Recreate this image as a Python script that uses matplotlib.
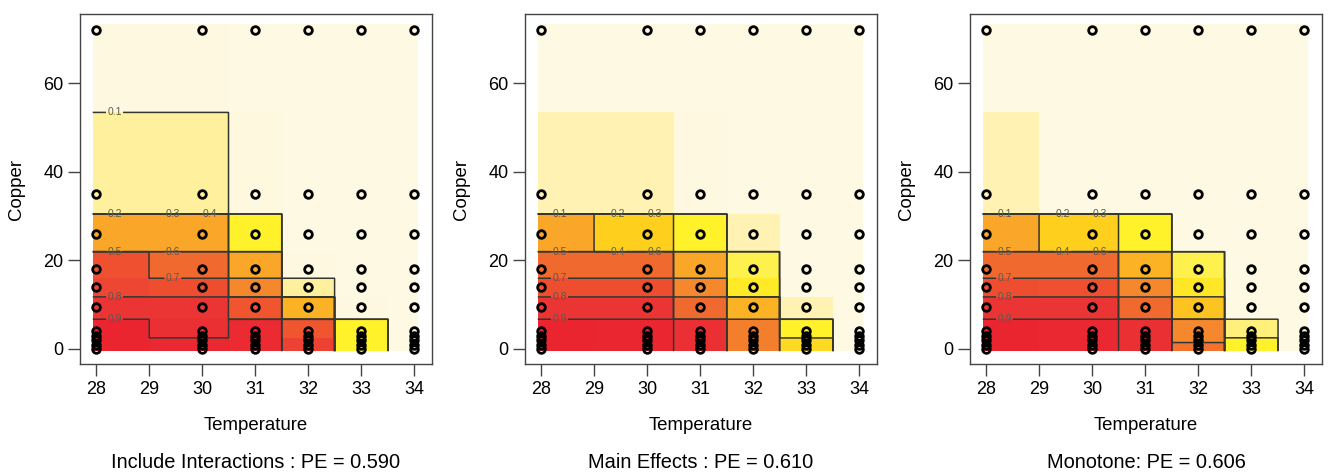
import numpy as np
import matplotlib
matplotlib.use("Agg")
import matplotlib.pyplot as plt
from matplotlib.colors import LinearSegmentedColormap

plt.rcParams['font.family'] = ['Liberation Sans', 'DejaVu Sans']

# design grid
temperature = [28, 30, 31, 32, 33, 34]
copper = [0, 1, 2, 3, 4, 9.5, 14, 18, 26, 35, 72]
x_ticks = [28, 29, 30, 31, 32, 33, 34]
y_ticks = [0, 20, 40, 60]
contour_levels = [0.1, 0.2, 0.3, 0.4, 0.5, 0.6, 0.7, 0.8, 0.9]

# fitted probability, one row per temperature, columns follow `copper`
prob_interactions = [
    [0.95, 0.95, 0.95, 0.95, 0.95, 0.85, 0.78, 0.74, 0.45, 0.15, 0.04],
    [0.93, 0.93, 0.93, 0.88, 0.88, 0.85, 0.75, 0.65, 0.45, 0.15, 0.04],
    [0.92, 0.92, 0.92, 0.92, 0.92, 0.72, 0.55, 0.45, 0.25, 0.05, 0.03],
    [0.80, 0.80, 0.80, 0.72, 0.72, 0.42, 0.15, 0.04, 0.03, 0.03, 0.02],
    [0.25, 0.25, 0.25, 0.25, 0.25, 0.04, 0.03, 0.03, 0.03, 0.03, 0.02],
    [0.03, 0.03, 0.03, 0.03, 0.03, 0.03, 0.03, 0.03, 0.03, 0.03, 0.02],
]
prob_main = [
    [0.95, 0.95, 0.95, 0.95, 0.95, 0.85, 0.75, 0.65, 0.45, 0.08, 0.03],
    [0.94, 0.94, 0.94, 0.94, 0.94, 0.85, 0.75, 0.65, 0.35, 0.08, 0.03],
    [0.88, 0.88, 0.88, 0.88, 0.88, 0.65, 0.55, 0.45, 0.25, 0.04, 0.03],
    [0.58, 0.58, 0.58, 0.58, 0.58, 0.42, 0.27, 0.22, 0.08, 0.03, 0.02],
    [0.32, 0.32, 0.32, 0.25, 0.25, 0.08, 0.03, 0.03, 0.02, 0.02, 0.02],
    [0.02, 0.02, 0.02, 0.02, 0.02, 0.02, 0.02, 0.02, 0.02, 0.02, 0.02],
]
prob_monotone = [
    [0.95, 0.95, 0.95, 0.95, 0.95, 0.85, 0.75, 0.65, 0.45, 0.08, 0.03],
    [0.93, 0.93, 0.93, 0.93, 0.93, 0.85, 0.74, 0.65, 0.35, 0.03, 0.03],
    [0.88, 0.88, 0.88, 0.88, 0.88, 0.65, 0.55, 0.42, 0.25, 0.03, 0.03],
    [0.62, 0.62, 0.55, 0.55, 0.55, 0.38, 0.28, 0.22, 0.03, 0.03, 0.02],
    [0.25, 0.25, 0.25, 0.18, 0.18, 0.03, 0.02, 0.02, 0.02, 0.02, 0.02],
    [0.02, 0.02, 0.02, 0.02, 0.02, 0.02, 0.02, 0.02, 0.02, 0.02, 0.02],
]
panel_titles = ["Include Interactions : PE = 0.590",
                "Main Effects : PE = 0.610",
                "Monotone: PE = 0.606"]

heat = LinearSegmentedColormap.from_list("heat", [
    (0.00, "#FEFAE6"), (0.05, "#FEF8DE"), (0.08, "#FFF2B0"),
    (0.15, "#FFF09E"), (0.25, "#FFF12A"), (0.35, "#FFCF1E"),
    (0.45, "#FAA628"), (0.55, "#F5882C"), (0.65, "#F0692F"),
    (0.75, "#EE4E30"), (0.85, "#EB3535"), (1.00, "#EA1E2E"),
])


def cell_edges(v, lo_pad, hi_pad):
    v = np.asarray(v, float)
    mid = (v[:-1] + v[1:]) / 2
    return np.concatenate([[v[0] - lo_pad], mid, [v[-1] + hi_pad]])


def draw_panel(ax, prob):
    z = np.asarray(prob).T  # copper x temperature
    xe = cell_edges(temperature, 0.06, 0.06)
    ye = cell_edges(copper, 0.5, 1.5)
    ax.pcolormesh(xe, ye, z, cmap=heat, vmin=0, vmax=1, shading="flat", zorder=1)

    # step surface on a fine grid for the contour lines
    gx = np.linspace(xe[0], xe[-1], 500)
    gy = np.linspace(ye[0], ye[-1], 1000)
    ix = np.clip(np.searchsorted(xe, gx, side="right") - 1, 0, len(temperature) - 1)
    iy = np.clip(np.searchsorted(ye, gy, side="right") - 1, 0, len(copper) - 1)
    zf = z[iy][:, ix]

    placed = []
    spots = [28.35, 29.45, 30.15]
    for lev in contour_levels:
        cs = ax.contour(gx, gy, zf, levels=[lev], colors="#363630",
                        linewidths=1.1, zorder=2)
        verts = np.concatenate(cs.allsegs[0])
        for sx in spots:
            k = np.argmin(np.abs(verts[:, 0] - sx))
            sy = verts[k, 1]
            if all(abs(sx - px) > 0.6 or abs(sy - py) > 2.5 for px, py in placed):
                break
        placed.append((sx, sy))
        cs.clabel(manual=[(sx, sy)], fmt="%.1f", inline=True, inline_spacing=2,
                  fontsize=7.5, colors="#5a5a50")

    tx, cy = np.meshgrid(temperature, copper)
    ax.plot(tx.ravel(), cy.ravel(), "o", mfc="none", mec="black", ms=5.5, mew=2,
            zorder=3)

    ax.set_xlim(27.70, 34.33)
    ax.set_ylim(-3.4, 75.7)
    ax.set_xticks(x_ticks)
    ax.set_yticks(y_ticks)
    ax.tick_params(direction="out", length=8.5, width=1, pad=3.5,
                   labelsize=13, color="#444444")
    for sp in ax.spines.values():
        sp.set_color("#444444")
        sp.set_linewidth(1.0)
    ax.set_xlabel("Temperature", fontsize=13.4)
    ax.set_ylabel("Copper", fontsize=13.4)
    ax.xaxis.set_label_coords(0.5, -0.152)
    ax.yaxis.set_label_coords(-0.155, 0.5)


fig = plt.figure(figsize=(13.3, 4.74), dpi=100)
panels = [prob_interactions, prob_main, prob_monotone]
for i, (prob, title) in enumerate(zip(panels, panel_titles)):
    left = 80 + 445 * i
    ax = fig.add_axes([left / 1330, 110 / 474, 352 / 1330, 350 / 474])
    draw_panel(ax, prob)
    fig.text((left + 176) / 1330, 12 / 474, title, ha="center", va="center",
             fontsize=14.4)

fig.savefig("out.png", dpi=100)
